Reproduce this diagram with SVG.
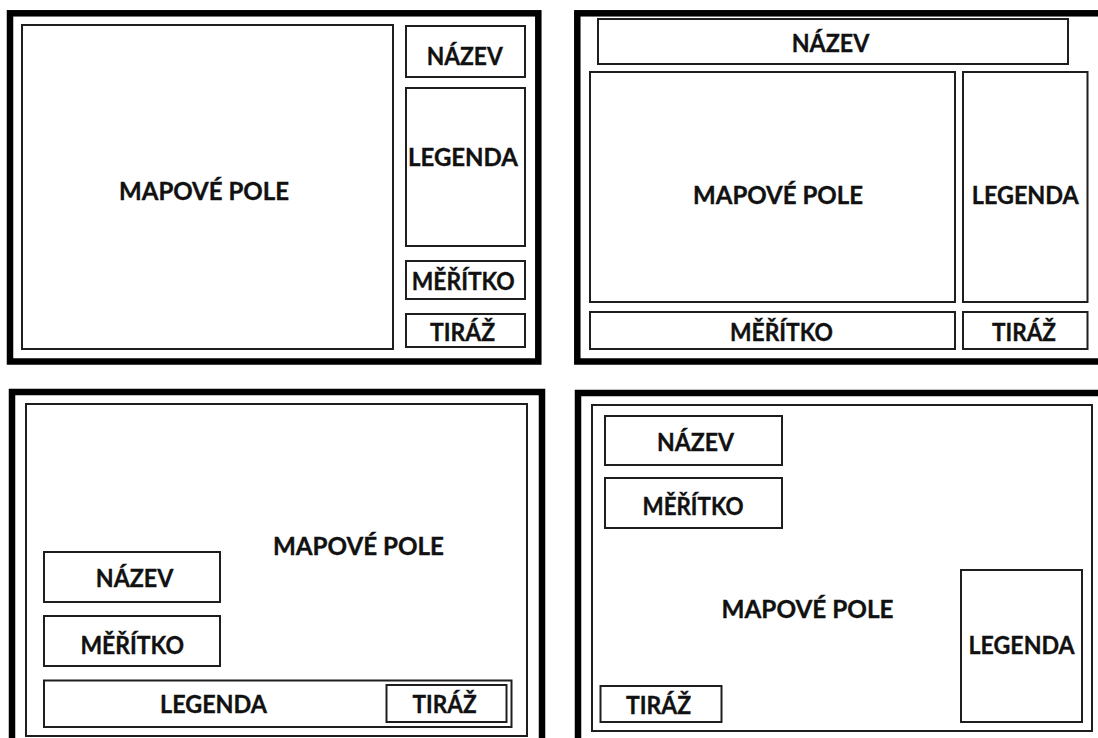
<svg xmlns="http://www.w3.org/2000/svg" width="1098" height="738" viewBox="0 0 1098 738">
  <style>
    .frame { fill: none; stroke: #000; stroke-width: 6.5; }
    .box { fill: #fff; stroke: #1e1e1e; stroke-width: 2; }
    .lbl { font-family: Lato, "Open Sans", "Liberation Sans", sans-serif; font-weight: 700; font-size: 24px; fill: #111; stroke: #111; stroke-width: 0.35; text-anchor: middle; }
  </style>
  <rect width="1098" height="738" fill="#fff"/>

  <!-- Layout 1: map field left, side column right -->
  <g id="layout-1">
    <rect class="frame" x="10" y="13.3" width="528.3" height="348.2"/>
    <g id="l1-mapove-pole">
      <rect class="box" x="22" y="25" width="371" height="324"/>
      <text class="lbl" x="204" y="200" textLength="170" lengthAdjust="spacingAndGlyphs">MAPOVÉ POLE</text>
    </g>
    <g id="l1-nazev">
      <rect class="box" x="406" y="26" width="119" height="51"/>
      <text class="lbl" x="464.7" y="65" textLength="76" lengthAdjust="spacingAndGlyphs">NÁZEV</text>
    </g>
    <g id="l1-legenda">
      <rect class="box" x="406" y="88" width="119" height="158"/>
      <text class="lbl" x="463" y="166" textLength="110" lengthAdjust="spacingAndGlyphs">LEGENDA</text>
    </g>
    <g id="l1-meritko">
      <rect class="box" x="406" y="261" width="119" height="38"/>
      <text class="lbl" x="463.3" y="290" textLength="103" lengthAdjust="spacingAndGlyphs">MĚŘÍTKO</text>
    </g>
    <g id="l1-tiraz">
      <rect class="box" x="406" y="314" width="119" height="33"/>
      <text class="lbl" x="462.5" y="341" textLength="65" lengthAdjust="spacingAndGlyphs">TIRÁŽ</text>
    </g>
  </g>

  <!-- Layout 2: title band on top, scale and imprint along the bottom -->
  <g id="layout-2">
    <rect class="frame" x="577.3" y="13.3" width="530" height="348.2"/>
    <g id="l2-nazev">
      <rect class="box" x="598" y="19" width="470" height="45"/>
      <text class="lbl" x="830.5" y="52" textLength="77.6" lengthAdjust="spacingAndGlyphs">NÁZEV</text>
    </g>
    <g id="l2-mapove-pole">
      <rect class="box" x="590" y="72" width="365" height="230"/>
      <text class="lbl" x="778" y="204" textLength="170" lengthAdjust="spacingAndGlyphs">MAPOVÉ POLE</text>
    </g>
    <g id="l2-legenda">
      <rect class="box" x="963" y="72" width="124.5" height="230"/>
      <text class="lbl" x="1025.3" y="204" textLength="107" lengthAdjust="spacingAndGlyphs">LEGENDA</text>
    </g>
    <g id="l2-meritko">
      <rect class="box" x="590" y="312" width="365" height="37"/>
      <text class="lbl" x="781.5" y="341" textLength="103" lengthAdjust="spacingAndGlyphs">MĚŘÍTKO</text>
    </g>
    <g id="l2-tiraz">
      <rect class="box" x="963" y="312" width="124.5" height="37"/>
      <text class="lbl" x="1024" y="341" textLength="64" lengthAdjust="spacingAndGlyphs">TIRÁŽ</text>
    </g>
  </g>

  <!-- Layout 3: elements stacked inside the map field, bottom left -->
  <g id="layout-3">
    <rect class="frame" x="12" y="392" width="530" height="360"/>
    <g id="l3-mapove-pole">
      <rect class="box" x="26" y="404" width="501" height="332"/>
      <text class="lbl" x="358.5" y="555" textLength="171" lengthAdjust="spacingAndGlyphs">MAPOVÉ POLE</text>
    </g>
    <g id="l3-nazev">
      <rect class="box" x="44" y="552" width="176" height="50"/>
      <text class="lbl" x="134.5" y="587" textLength="77.5" lengthAdjust="spacingAndGlyphs">NÁZEV</text>
    </g>
    <g id="l3-meritko">
      <rect class="box" x="44" y="616" width="176" height="50"/>
      <text class="lbl" x="132.2" y="653.6" textLength="103.6" lengthAdjust="spacingAndGlyphs">MĚŘÍTKO</text>
    </g>
    <g id="l3-legenda">
      <rect class="box" x="44" y="680.5" width="467.5" height="46.5"/>
      <text class="lbl" x="213.5" y="713" textLength="107" lengthAdjust="spacingAndGlyphs">LEGENDA</text>
    </g>
    <g id="l3-tiraz">
      <rect class="box" x="386.5" y="685" width="120" height="37"/>
      <text class="lbl" x="444.6" y="713" textLength="64" lengthAdjust="spacingAndGlyphs">TIRÁŽ</text>
    </g>
  </g>

  <!-- Layout 4: elements floating inside the map field -->
  <g id="layout-4">
    <rect class="frame" x="578" y="393" width="530" height="360"/>
    <g id="l4-mapove-pole">
      <rect class="box" x="592" y="405" width="500" height="326"/>
      <text class="lbl" x="807.5" y="617.7" textLength="172" lengthAdjust="spacingAndGlyphs">MAPOVÉ POLE</text>
    </g>
    <g id="l4-nazev">
      <rect class="box" x="605" y="416" width="177" height="49"/>
      <text class="lbl" x="695.5" y="451.4" textLength="77" lengthAdjust="spacingAndGlyphs">NÁZEV</text>
    </g>
    <g id="l4-meritko">
      <rect class="box" x="605" y="478" width="177" height="50"/>
      <text class="lbl" x="693" y="514.5" textLength="101" lengthAdjust="spacingAndGlyphs">MĚŘÍTKO</text>
    </g>
    <g id="l4-legenda">
      <rect class="box" x="961" y="570" width="121" height="152"/>
      <text class="lbl" x="1021.6" y="654.4" textLength="106" lengthAdjust="spacingAndGlyphs">LEGENDA</text>
    </g>
    <g id="l4-tiraz">
      <rect class="box" x="600.5" y="686" width="121" height="36"/>
      <text class="lbl" x="658.5" y="713.7" textLength="65" lengthAdjust="spacingAndGlyphs">TIRÁŽ</text>
    </g>
  </g>
</svg>
